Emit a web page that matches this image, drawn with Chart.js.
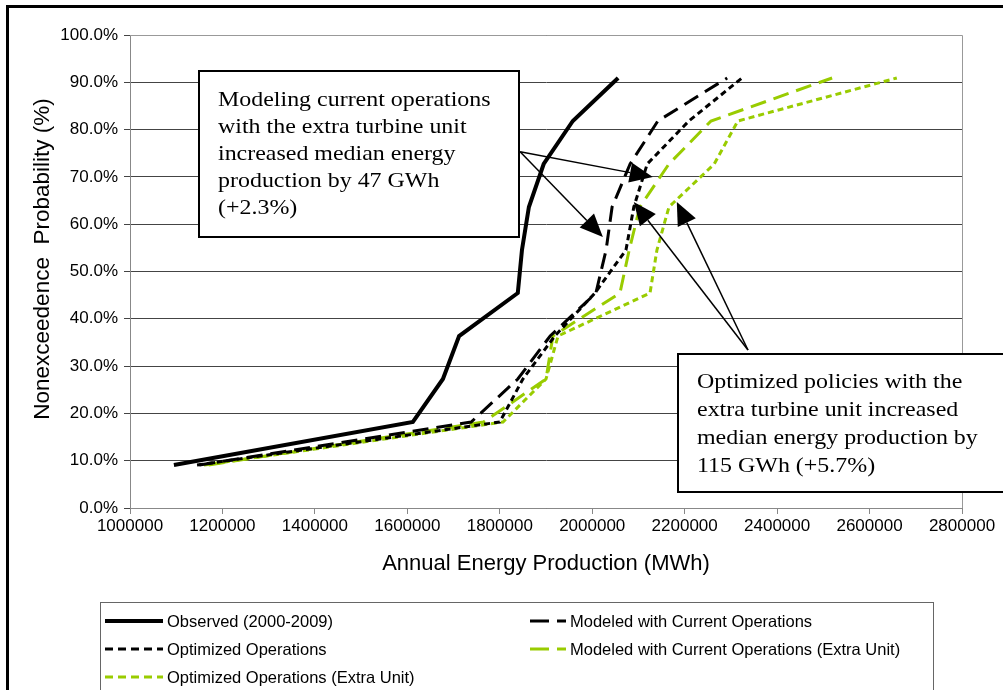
<!DOCTYPE html>
<html>
<head>
<meta charset="utf-8">
<script src="https://cdn.jsdelivr.net/npm/chart.js@4.4.1/dist/chart.umd.min.js"></script>
<style>
  html, body { margin: 0; padding: 0; background: #fff; overflow: hidden; }
  #wrap { position: relative; width: 1003px; height: 690px; overflow: hidden; }
  #frame { position: absolute; left: 6px; top: 5px; width: 1100px; height: 800px;
           border-left: 3px solid #000; border-top: 3px solid #000; pointer-events: none; }
  .note { position: absolute; background: #fff; border: 2px solid #000; box-sizing: border-box;
          font-family: "Liberation Serif", "Times New Roman", serif; font-size: 21px; color: #000; }
  .note div { white-space: nowrap; transform: scaleX(1.14); transform-origin: left center; }
  #note1 { left: 198px; top: 70px; width: 322px; height: 168px; padding: 14px 0 0 18px; line-height: 27px; }
  #note2 { left: 677px; top: 353px; width: 360px; height: 140px; padding: 12px 0 0 18px; line-height: 28px; }
  #legend { position: absolute; left: 100px; top: 602px; width: 834px; height: 120px;
            border: 1px solid #666; box-sizing: border-box; font-family: "Liberation Sans", Arial, sans-serif;
            font-size: 16.5px; color: #000; }
  .item { position: absolute; height: 20px; display: flex; align-items: center; white-space: nowrap; }
  .item svg { margin-right: 4px; }
</style>
</head>
<body>
<div id="wrap">
  <canvas id="chart" width="1003" height="690"></canvas>
  <div id="frame"></div>
  <div class="note" id="note1">
    <div>Modeling current operations</div>
    <div>with the extra turbine unit</div>
    <div>increased median energy</div>
    <div>production by 47 GWh</div>
    <div>(+2.3%)</div>
  </div>
  <div class="note" id="note2">
    <div>Optimized policies with the</div>
    <div>extra turbine unit increased</div>
    <div>median energy production by</div>
    <div>115 GWh (+5.7%)</div>
  </div>
  <div id="legend"></div>
</div>
<script>
// nonexceedence probability (%) of each ranked year
const probability = [9.09, 18.18, 27.27, 36.36, 45.45, 54.55, 63.64, 72.73, 81.82, 90.91];

// annual energy production (MWh)
const observed = [1095000, 1612000, 1677000, 1712000, 1839000, 1848000, 1863000, 1895000, 1958000, 2056000];
const modeledCurrent = [1150000, 1738000, 1839000, 1909000, 2008000, 2030000, 2043000, 2082000, 2142000, 2292000];
const optimized = [1145000, 1800000, 1850000, 1919000, 2006000, 2073000, 2090000, 2119000, 2209000, 2324000];
const modeledExtra = [1170000, 1765000, 1900000, 1915000, 2060000, 2080000, 2103000, 2166000, 2257000, 2519000];
const optimizedExtra = [1160000, 1807000, 1900000, 1926000, 2125000, 2140000, 2166000, 2264000, 2315000, 2659000];

const seriesNames = [
    "Observed (2000-2009)",
    "Modeled with Current Operations",
    "Optimized Operations",
    "Modeled with Current Operations (Extra Unit)",
    "Optimized Operations (Extra Unit)"
];

// arrows: from a note to a point on the curves (data units)
const arrowFrom = [[1844000, 75.3], [1844000, 75.3], [2337000, 33.4], [2337000, 33.4]];
const arrowTo = [[2023000, 57.3], [2131000, 70.0], [2090000, 64.7], [2183000, 64.7]];

const green = "#99cc00";

function toPoints(values) {
    return values.map((v, i) => ({ x: v, y: probability[i] }));
}

const plotFrame = {
    id: "plotFrame",
    afterDraw(chart) {
        const { ctx, chartArea: a } = chart;
        ctx.save();
        ctx.strokeStyle = "#999";
        ctx.lineWidth = 1;
        ctx.beginPath();
        ctx.moveTo(a.left, a.top + 0.5);
        ctx.lineTo(a.right + 0.5, a.top + 0.5);
        ctx.lineTo(a.right + 0.5, a.bottom);
        ctx.stroke();
        ctx.restore();
    }
};

const arrows = {
    id: "arrows",
    afterDraw(chart) {
        const { ctx } = chart;
        const xs = chart.scales.x, ys = chart.scales.y;
        ctx.save();
        ctx.strokeStyle = "#000";
        ctx.fillStyle = "#000";
        ctx.lineWidth = 1.5;
        arrowFrom.forEach((f, i) => {
            const x0 = xs.getPixelForValue(f[0]), y0 = ys.getPixelForValue(f[1]);
            const x1 = xs.getPixelForValue(arrowTo[i][0]), y1 = ys.getPixelForValue(arrowTo[i][1]);
            const ang = Math.atan2(y1 - y0, x1 - x0);
            const len = 23, half = 10;
            const bx = x1 - len * Math.cos(ang), by = y1 - len * Math.sin(ang);
            ctx.beginPath();
            ctx.moveTo(x0, y0);
            ctx.lineTo(bx, by);
            ctx.stroke();
            ctx.beginPath();
            ctx.moveTo(x1, y1);
            ctx.lineTo(bx + half * Math.sin(ang), by - half * Math.cos(ang));
            ctx.lineTo(bx - half * Math.sin(ang), by + half * Math.cos(ang));
            ctx.closePath();
            ctx.fill();
        });
        ctx.restore();
    }
};

const ctx = document.getElementById("chart").getContext("2d");
const chart = new Chart(ctx, {
    type: "line",
    data: {
        datasets: [
            { label: seriesNames[0], data: toPoints(observed), borderColor: "#000", borderWidth: 4 },
            { label: seriesNames[1], data: toPoints(modeledCurrent), borderColor: "#000", borderWidth: 3, borderDash: [16, 8] },
            { label: seriesNames[2], data: toPoints(optimized), borderColor: "#000", borderWidth: 3, borderDash: [6, 4] },
            { label: seriesNames[3], data: toPoints(modeledExtra), borderColor: green, borderWidth: 3, borderDash: [16, 8] },
            { label: seriesNames[4], data: toPoints(optimizedExtra), borderColor: green, borderWidth: 3, borderDash: [6, 4] }
        ]
    },
    options: {
        responsive: false,
        animation: false,
        elements: { point: { radius: 0 }, line: { tension: 0, borderCapStyle: "butt" } },
        layout: { padding: { left: 29, top: 35, right: 41, bottom: 113 } },
        plugins: { legend: { display: false }, tooltip: { enabled: false } },
        scales: {
            x: {
                type: "linear",
                min: 1000000,
                max: 2800000,
                afterFit: s => { s.height = 69; },
                ticks: {
                    stepSize: 200000,
                    color: "#000",
                    padding: 2,
                    font: { family: "Liberation Sans", size: 17 },
                    callback: v => String(v)
                },
                grid: { drawOnChartArea: false, drawTicks: true, tickLength: 6, color: "#888" },
                border: { color: "#888" },
                title: {
                    display: true,
                    text: "Annual Energy Production (MWh)",
                    color: "#000",
                    padding: 0,
                    font: { family: "Liberation Sans", size: 22 }
                }
            },
            y: {
                min: 0,
                max: 100,
                afterFit: s => { s.width = 101; },
                ticks: {
                    stepSize: 10,
                    color: "#000",
                    padding: 6,
                    font: { family: "Liberation Sans", size: 17 },
                    callback: v => v.toFixed(1) + "%"
                },
                grid: { color: "#444", drawTicks: true, tickLength: 6 },
                border: { color: "#888" },
                title: {
                    display: true,
                    text: "    Nonexceedence  Probability (%)",
                    color: "#000",
                    padding: 0,
                    font: { family: "Liberation Sans", size: 22.5 }
                }
            }
        }
    },
    plugins: [plotFrame, arrows]
});

// HTML legend in two columns, built from the datasets
const legend = document.getElementById("legend");
chart.data.datasets.forEach((ds, i) => {
    const col = i % 2, row = Math.floor(i / 2);
    const w = col === 0 ? 58 : 36;
    const item = document.createElement("div");
    item.className = "item";
    item.style.left = (col === 0 ? 4 : 429) + "px";
    item.style.top = (8 + row * 28) + "px";
    const dash = ds.borderDash ? (ds.borderDash[0] > 10 ? "19 8" : "8 5") : "none";
    item.innerHTML =
        `<svg width="${w}" height="8"><line x1="0" y1="4" x2="${w}" y2="4" stroke="${ds.borderColor}" ` +
        `stroke-width="${ds.borderWidth}" stroke-dasharray="${dash}"/></svg><span>${ds.label}</span>`;
    legend.appendChild(item);
});
</script>
</body>
</html>
